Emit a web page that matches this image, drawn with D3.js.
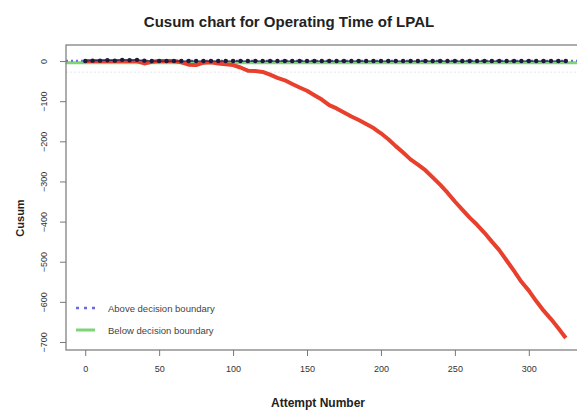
<!DOCTYPE html>
<html>
<head>
<meta charset="utf-8">
<script src="https://cdn.jsdelivr.net/npm/d3@7"></script>
<style>
  body { margin: 0; background: #fff; }
  svg { display: block; font-family: "Liberation Sans", Arial, sans-serif; }
</style>
</head>
<body>
<svg id="chart" width="577" height="414"></svg>
<script>
const attempts = [0, 5, 10, 15, 20, 25, 30, 35, 40, 45, 50, 55, 60, 65, 70, 75, 80, 85, 90, 95,
  100, 105, 110, 115, 120, 125, 130, 135, 140, 145, 150, 155, 160, 165, 170, 175, 180, 185, 190, 195,
  200, 205, 210, 215, 220, 225, 230, 235, 240, 245, 250, 255, 260, 265, 270, 275, 280, 285, 290, 295,
  300, 305, 310, 315, 320, 325];

const lowerCusum = [0, 0, 0, 0, 0, 0, 0, 0, -6, -2, 0, 0, 0, -3, -9, -10, -4, -3, -6, -8,
  -10, -16, -24, -25, -27, -34, -42, -48, -57, -66, -74, -85, -96, -110, -118, -128, -138, -147, -157, -167,
  -180, -195, -212, -228, -245, -258, -272, -290, -308, -328, -350, -370, -390, -408, -428, -450, -471, -497, -523, -550,
  -572, -598, -622, -643, -666, -690];

const upperCusum = [0, 1, 1, 2, 1, 3, 2, 3, 1, 0, 0, 0, 0, 0, 0, 0, 0, 0, 0, 0,
  0, 0, 0, 0, 0, 0, 0, 0, 0, 0, 0, 0, 0, 0, 0, 0, 0, 0, 0, 0,
  0, 0, 0, 0, 0, 0, 0, 0, 0, 0, 0, 0, 0, 0, 0, 0, 0, 0, 0, 0,
  0, 0, 0, 0, 0, 0];

const upperBoundary = 1;
const lowerBoundary = -4;

const xTicks = [0, 50, 100, 150, 200, 250, 300];
const yTicks = [0, -100, -200, -300, -400, -500, -600, -700];

const legendLabels = ["Above decision boundary", "Below decision boundary"];

const svg = d3.select('#chart');
const margin = { top: 45, right: -8, bottom: 64, left: 66 };
const width = 577 - margin.left - margin.right;
const height = 414 - margin.top - margin.bottom;

const x = d3.scaleLinear().domain([-13, 338]).range([margin.left, margin.left + width]);
const y = d3.scaleLinear().domain([-720, 40]).range([margin.top + height, margin.top]);

const points = attempts.map((a, i) => ({ a, lo: lowerCusum[i], up: upperCusum[i] }));

// title
svg.append('text')
  .attr('x', 289).attr('y', 27)
  .attr('text-anchor', 'middle')
  .attr('font-size', 15).attr('font-weight', 'bold')
  .attr('fill', '#222')
  .text('Cusum chart for Operating Time of LPAL');

// faint reference line
svg.append('line')
  .attr('x1', x(-13)).attr('x2', x(338))
  .attr('y1', y(-28)).attr('y2', y(-28))
  .attr('stroke', '#eceff4').attr('stroke-width', 1.5)
  .attr('stroke-dasharray', '2,2');

// decision boundaries
svg.append('line')
  .attr('x1', x(-13)).attr('x2', x(338))
  .attr('y1', y(lowerBoundary)).attr('y2', y(lowerBoundary))
  .attr('stroke', '#7fd47a').attr('stroke-width', 3);

svg.append('line')
  .attr('x1', x(-13)).attr('x2', x(338))
  .attr('y1', y(upperBoundary)).attr('y2', y(upperBoundary))
  .attr('stroke', '#6a6ae0').attr('stroke-width', 2)
  .attr('stroke-dasharray', '2,3');

// lower cusum
svg.append('path')
  .datum(points)
  .attr('fill', 'none')
  .attr('stroke', '#e8402c')
  .attr('stroke-width', 4)
  .attr('stroke-linejoin', 'round')
  .attr('d', d3.line().x(d => x(d.a)).y(d => y(d.lo)));

// upper cusum
svg.append('path')
  .datum(points)
  .attr('fill', 'none')
  .attr('stroke', '#2a2a55')
  .attr('stroke-width', 1.2)
  .attr('d', d3.line().x(d => x(d.a)).y(d => y(d.up)));

svg.append('g')
  .selectAll('circle')
  .data(points)
  .join('circle')
  .attr('cx', d => x(d.a))
  .attr('cy', d => y(d.up))
  .attr('r', 2.2)
  .attr('fill', '#1b1b3a');

// plot box
svg.append('rect')
  .attr('x', margin.left).attr('y', margin.top)
  .attr('width', width).attr('height', height)
  .attr('fill', 'none').attr('stroke', '#777').attr('stroke-width', 1.2);

// axes
const xAxis = svg.append('g')
  .attr('transform', `translate(0,${margin.top + height})`)
  .call(d3.axisBottom(x).tickValues(xTicks).tickSize(6).tickPadding(10));

const yAxis = svg.append('g')
  .attr('transform', `translate(${margin.left},0)`)
  .call(d3.axisLeft(y).tickValues(yTicks).tickSize(6).tickPadding(3));

[xAxis, yAxis].forEach(g => {
  g.select('.domain').remove();
  g.selectAll('line').attr('stroke', '#777');
  g.selectAll('text').attr('font-size', 9).attr('fill', '#333').attr('font-family', '"Liberation Sans", Arial, sans-serif');
});

yAxis.selectAll('text')
  .attr('text-anchor', 'middle')
  .attr('x', null).attr('dy', null)
  .attr('transform', 'translate(-22,0) rotate(-90)')
  .attr('y', 3);

// axis titles
svg.append('text')
  .attr('x', 318).attr('y', 407)
  .attr('text-anchor', 'middle')
  .attr('font-size', 12).attr('font-weight', 'bold')
  .attr('fill', '#222')
  .text('Attempt Number');

svg.append('text')
  .attr('transform', 'translate(24,218) rotate(-90)')
  .attr('text-anchor', 'middle')
  .attr('font-size', 11).attr('font-weight', 'bold')
  .attr('fill', '#222')
  .text('Cusum');

// legend
const legend = svg.append('g').attr('transform', 'translate(75,308)');
legend.append('line')
  .attr('x1', 1).attr('x2', 25).attr('y1', 0).attr('y2', 0)
  .attr('stroke', '#6a6ae0').attr('stroke-width', 2.5)
  .attr('stroke-dasharray', '3,5');
legend.append('line')
  .attr('x1', 1).attr('x2', 20).attr('y1', 22).attr('y2', 22)
  .attr('stroke', '#7fd47a').attr('stroke-width', 3);
legend.selectAll('text.lbl')
  .data(legendLabels)
  .join('text')
  .attr('class', 'lbl')
  .attr('x', 33)
  .attr('y', (d, i) => i * 22 + 3.5)
  .attr('font-size', 9.5)
  .attr('fill', '#444')
  .text(d => d);
</script>
</body>
</html>
